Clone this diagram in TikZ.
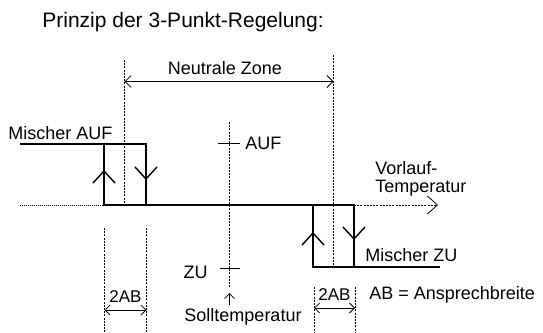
\documentclass[tikz,border=0pt]{standalone}
\usepackage{fontspec}
\setmainfont{Liberation Sans}
\usetikzlibrary{arrows.meta}

\begin{document}
\begin{tikzpicture}[x=1pt,y=-1pt,line width=0.8pt,>={Straight Barb[length=6pt,width=12pt]}]
\tikzset{lbl/.style={font=\fontsize{18}{18}\selectfont,inner sep=0pt,align=left},
  curve/.style={line width=2.8pt,line join=miter},
  guide/.style={line width=0.8pt,dash pattern=on 2pt off 1.2pt},
  dots/.style={line width=0.8pt,dash pattern=on 1pt off 1pt},
  flow/.style={line width=1.4pt,-{Straight Barb[length=12pt,width=22pt]}}}
\useasboundingbox (0,0) rectangle (543,332);
% ---------- title ----------
\node[lbl,anchor=west,font=\fontsize{21}{24}\selectfont] (title) at (42,22) {Prinzip der 3-Punkt-Regelung:};
% ---------- switching curve ----------
\coordinate (aufend) at (20,144);
\coordinate (a1) at (104,144); \coordinate (a2) at (146,144);
\coordinate (a3) at (146,205); \coordinate (a4) at (104,205);
\coordinate (z1) at (313,205); \coordinate (z2) at (354,205);
\coordinate (z3) at (354,267); \coordinate (z4) at (313,267);
\coordinate (zuend) at (440,267);
\coordinate (axstart) at (20,205); \coordinate (axend) at (438,205);
\draw[dots] (axstart) -- (a4);
\draw[guide,-{Straight Barb[length=10pt,width=18pt]}] (z2) -- (axend);
\draw[curve] (aufend) -- (a2) -- (a3) -- (a4) -- (a1);
\draw[curve] (a4) -- (z2) -- (z3) -- (zuend);
\draw[curve] (z1) -- (z4) -- (z3);
\draw[flow] (104,195) -- (104,170);
\draw[flow] (146,160) -- (146,180);
\draw[flow] (313,255) -- (313,232);
\draw[flow] (354,220) -- (354,240);
\node[lbl,anchor=west] (mauf) at (8,133) {Mischer AUF};
\node[lbl,anchor=west] (mzu) at (365,255) {Mischer ZU};
\node[lbl,anchor=west] (vorl) at (375,179) {Vorlauf-\\Temperatur};
% ---------- neutral zone ----------
\coordinate (nz1top) at (124.5,60); \coordinate (nz1bot) at (124.5,205);
\coordinate (nz2top) at (333.5,55); \coordinate (nz2bot) at (333.5,267);
\draw[guide] (nz1top) -- (nz1bot);
\draw[guide] (nz2top) -- (nz2bot);
\coordinate (nzl) at (124.5,81.5); \coordinate (nzr) at (333.5,81.5);
\draw[<->] (nzl) -- (nzr);
\node[lbl] (nz) at (225,68) {Neutrale Zone};
% ---------- set point ----------
\coordinate (swtop) at (229.5,122); \coordinate (swbot) at (229.5,288);
\draw[guide] (swtop) -- (swbot);
\coordinate (auf1) at (218,143); \coordinate (auf2) at (240,143);
\coordinate (zu1) at (220,268); \coordinate (zu2) at (240,268);
\draw (auf1) -- (auf2);
\draw (zu1) -- (zu2);
\node[lbl,anchor=west] (auf) at (245,143) {AUF};
\node[lbl,anchor=east] (zu) at (208,272) {ZU};
\node[lbl] (soll) at (243,317) {Solltemperatur};
\coordinate (sollarr) at (229.5,293);
\draw[->,>={Straight Barb[length=5pt,width=10pt]}] (soll.north -| sollarr) ++(0,-3) -- (sollarr);
% ---------- response width ----------
\foreach \xa/\xb/\ya/\yb/\nm in {104.5/146.5/228/310/l,314/355/287/308/r}{
  \coordinate (ab\nm1) at (\xa,\ya); \coordinate (ab\nm2) at (\xb,\ya);
  \coordinate (ab\nm3) at (\xa,332); \coordinate (ab\nm4) at (\xb,332);
  \draw[guide] (ab\nm1) -- (ab\nm3);
  \draw[guide] (ab\nm2) -- (ab\nm4);
  \draw[<->,>={Straight Barb[length=5pt,width=10pt]}] (\xa,\yb) -- (\xb,\yb);
  \node[lbl,font=\fontsize{17}{14}\selectfont] (twoab\nm) at ({(\xa+\xb)/2},{\yb-13}) {2AB};}
\node[lbl,anchor=west] (abdef) at (369,295) {AB = Ansprechbreite};
\end{tikzpicture}
\end{document}
